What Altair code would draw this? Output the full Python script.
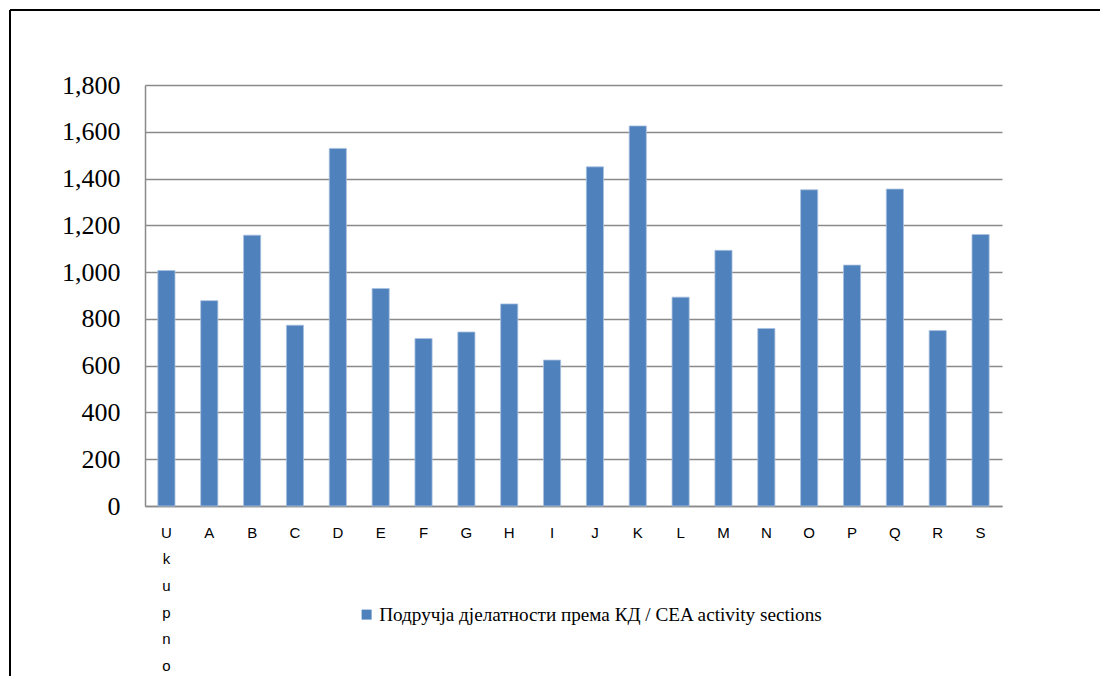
import altair as alt
import pandas as pd

categories = ["Ukupno", "A", "B", "C", "D", "E", "F", "G", "H", "I",
              "J", "K", "L", "M", "N", "O", "P", "Q", "R", "S"]
values = [1007, 878, 1158, 773, 1529, 930, 716, 744, 864, 624,
          1450, 1625, 893, 1093, 759, 1352, 1030, 1355, 750, 1161]
series_name = "Подручја дјелатности према КД / CEA activity sections"
y_ticks = [0, 200, 400, 600, 800, 1000, 1200, 1400, 1600, 1800]

df = pd.DataFrame({"cat": categories, "val": values, "series": series_name})

W, H = 857, 421

bars = alt.Chart(df).mark_bar(stroke="#a9c1e0", strokeWidth=0.8).encode(
    x=alt.X("cat:N", sort=categories, title=None,
            scale=alt.Scale(paddingInner=0.6, paddingOuter=0.3),
            axis=alt.Axis(labelAngle=0, ticks=False, domain=True, domainColor="#8a8a8a",
                          domainWidth=1.5, labelFont="Liberation Sans", labelFontSize=15,
                          labelColor="#000000", labelPadding=19, labelBaseline="top",
                          labelLineHeight=26.7,
                          labelExpr="datum.value == 'Ukupno' ? split(datum.value, '') : datum.value")),
    y=alt.Y("val:Q", title=None,
            scale=alt.Scale(domain=[0, 1800], nice=False),
            axis=alt.Axis(values=y_ticks, format=",d", ticks=False, domain=True,
                          domainColor="#8a8a8a", domainWidth=1.5,
                          grid=True, gridColor="#8a8a8a", gridWidth=1.5,
                          labelFont="Liberation Serif", labelFontSize=26, labelColor="#000000",
                          labelPadding=25)),
    color=alt.Color("series:N", scale=alt.Scale(range=["#4F81BD"]),
                    legend=alt.Legend(title=None, orient="none", legendX=212, legendY=520,
                                      symbolType="square", symbolSize=100, symbolStrokeWidth=0,
                                      labelFont="Liberation Serif", labelFontSize=19.2,
                                      labelColor="#000000", labelOffset=3, labelLimit=0)),
)

frame_top = alt.Chart(df).mark_rule(color="#000000", strokeWidth=1.5, clip=False).encode(
    x=alt.value(-135), x2=alt.value(W + 98), y=alt.value(-75))
frame_left = alt.Chart(df).mark_rule(color="#000000", strokeWidth=1.5, clip=False).encode(
    x=alt.value(-135), y=alt.value(-75), y2=alt.value(H + 200))

chart = alt.layer(bars, frame_top, frame_left).properties(
    width=W, height=H,
    background="white",
    autosize=alt.AutoSizeParams(type="none"),
    padding={"left": 137, "top": 77, "right": 98, "bottom": 170},
).configure_view(strokeWidth=0, stroke="transparent")

chart.save("out.html", embed_options={"renderer": "svg", "actions": False})
